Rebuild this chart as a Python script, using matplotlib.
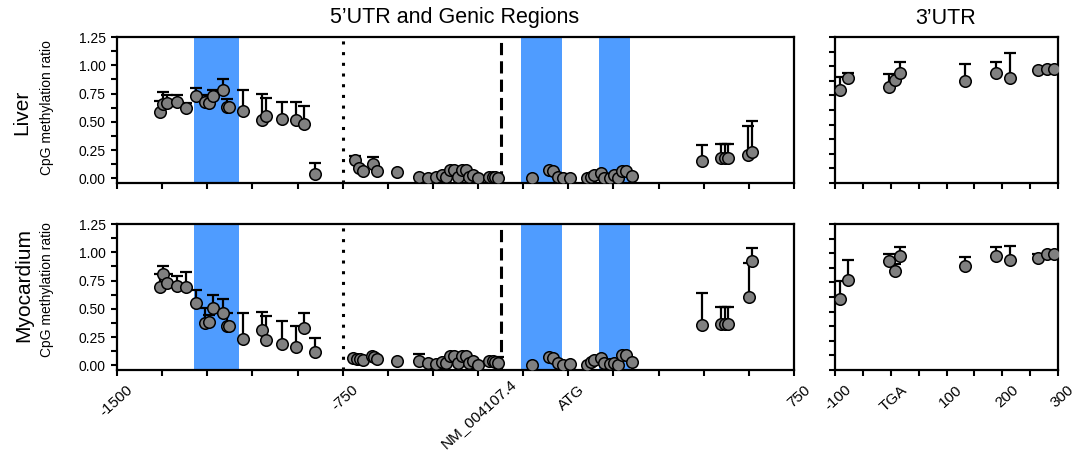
import numpy as np
import matplotlib
matplotlib.use("Agg")
import matplotlib.pyplot as plt
from matplotlib.ticker import FixedLocator, MultipleLocator
from matplotlib.transforms import ScaledTranslation

plt.rcParams["font.family"] = ["Liberation Sans", "DejaVu Sans"]

# ---- data ----
# 5'UTR + genic region, position relative to ATG; nan = no error bar
liver_x = [-1357, -1346, -1333, -1302, -1271, -1239, -1209, -1194, -1182, -1149, -1136, -1129,
           -1080, -1019, -1005, -952, -905, -880, -843,
           -709, -695, -684, -648, -635, -571, -497, -466, -441, -421, -405, -394, -380,
           -366, -355, -341, -329, -318, -299, -264, -252, -243, -233,
           -122, -64, -51, -34, -17, 7, 63, 74, 85, 110, 120, 138, 152, 166, 177, 191, 210,
           443, 509, 520, 530, 598, 609]
liver_y = [0.59, 0.656, 0.668, 0.68, 0.62, 0.727, 0.68, 0.668, 0.727, 0.786, 0.63, 0.63,
           0.597, 0.514, 0.55, 0.526, 0.514, 0.48, 0.04,
           0.166, 0.09, 0.062, 0.124, 0.062, 0.056, 0.012, 0.0, 0.012, 0.035, 0.012, 0.077, 0.077,
           0.012, 0.077, 0.077, 0.012, 0.033, 0.0, 0.012, 0.012, 0.012, 0.006,
           0.0, 0.077, 0.07, 0.012, 0.003, 0.006, 0.0, 0.012, 0.027, 0.047, 0.003, 0.0, 0.035,
           0.0, 0.07, 0.07, 0.02,
           0.153, 0.18, 0.18, 0.18, 0.21, 0.233]
liver_top = [0.685, 0.76, 0.74, 0.74, 0.67, 0.795, 0.74, np.nan, 0.78, 0.878, 0.70, np.nan,
             0.78, 0.75, 0.71, 0.676, 0.68, 0.64, 0.135,
             0.20, np.nan, np.nan, 0.19, np.nan, np.nan, np.nan, np.nan, np.nan, np.nan, np.nan,
             np.nan, np.nan, np.nan, np.nan, np.nan, np.nan, np.nan, np.nan, np.nan, np.nan,
             np.nan, np.nan,
             np.nan, np.nan, np.nan, np.nan, np.nan, np.nan, np.nan, np.nan, np.nan, np.nan,
             np.nan, np.nan, np.nan, np.nan, np.nan, np.nan, np.nan,
             0.30, 0.304, 0.304, 0.304, 0.464, 0.505]

myo_x = [-1357, -1346, -1333, -1302, -1271, -1239, -1208, -1193, -1182, -1149, -1136, -1129,
         -1080, -1019, -1005, -952, -905, -880, -843,
         -715, -704, -693, -684, -654, -645, -635, -571, -497, -466, -441, -421, -405, -394,
         -380, -366, -355, -341, -329, -318, -299, -264, -252, -243, -233,
         -122, -64, -51, -34, -17, 7, 63, 74, 85, 110, 120, 138, 152, 166, 177, 191, 210,
         443, 509, 520, 530, 601, 609]
myo_y = [0.689, 0.807, 0.733, 0.698, 0.694, 0.552, 0.378, 0.387, 0.51, 0.46, 0.35, 0.35,
         0.236, 0.31, 0.228, 0.186, 0.163, 0.328, 0.121,
         0.062, 0.06, 0.055, 0.05, 0.083, 0.074, 0.053, 0.038, 0.038, 0.018, 0.01, 0.03, 0.018,
         0.083, 0.083, 0.018, 0.083, 0.083, 0.018, 0.038, 0.003, 0.038, 0.038, 0.03, 0.018,
         0.003, 0.074, 0.068, 0.018, 0.003, 0.01, 0.003, 0.03, 0.047, 0.068, 0.018, 0.01, 0.018,
         0.003, 0.09, 0.09, 0.03,
         0.355, 0.363, 0.363, 0.363, 0.609, 0.925]
myo_top = [0.81, 0.88, 0.81, 0.79, 0.83, 0.667, 0.51, 0.45, 0.627, 0.588, 0.46, np.nan,
           0.46, 0.476, 0.437, 0.393, 0.349, 0.46, 0.245,
           np.nan, np.nan, np.nan, np.nan, np.nan, np.nan, np.nan, np.nan, 0.10, np.nan, np.nan,
           np.nan, np.nan, np.nan, np.nan, np.nan, np.nan, np.nan, np.nan, np.nan, np.nan,
           np.nan, np.nan, np.nan, 0.074,
           np.nan, np.nan, np.nan, np.nan, np.nan, np.nan, np.nan, np.nan, np.nan, np.nan,
           np.nan, np.nan, np.nan, np.nan, np.nan, np.nan, np.nan,
           0.644, 0.517, 0.517, 0.517, 0.904, 1.034]

# 3'UTR, position relative to TGA
utr3_x = [-91, -76, -4, 8, 16, 133, 188, 214, 265, 281, 293]
liver3_y = [0.797, 0.899, 0.826, 0.882, 0.939, 0.871, 0.939, 0.896, 0.967, 0.976, 0.976]
liver3_top = [0.905, 0.939, 0.933, np.nan, 1.038, 1.018, 1.038, 1.111, np.nan, np.nan, np.nan]
myo3_y = [0.606, 0.769, 0.934, 0.849, 0.977, 0.891, 0.977, 0.94, 0.957, 0.997, 0.997]
myo3_top = [0.763, 0.94, 0.997, 0.911, 1.054, 0.969, 1.054, 1.063, 0.997, np.nan, np.nan]

# CpG island / highlighted regions
bands = [(-1245, -1095), (-158, -22), (102, 205)]
tss_pos = -225
promoter_pos = -750

left_ticks = list(range(-1500, 751, 150))
left_labels = {-1500: "-1500", -750: "-750", 0: "ATG", 750: "750"}
right_ticks = list(range(-100, 301, 50))
right_labels = {-100: "-100", 0: "TGA", 100: "100", 200: "200", 300: "300"}
y_ticks = [0.0, 0.25, 0.5, 0.75, 1.0, 1.25]

BLUE = "#4f9cff"
GREY = "#808080"

W, H = 1080, 454
fig = plt.figure(figsize=(W / 100, H / 100), dpi=100)


def px_axes(x0, x1, y0, y1):
    return fig.add_axes([x0 / W, 1 - y1 / H, (x1 - x0) / W, (y1 - y0) / H])


def draw_points(ax, x, y, top):
    x, y, top = np.asarray(x, float), np.asarray(y, float), np.asarray(top, float)
    ok = ~np.isnan(top)
    ax.vlines(x[ok], y[ok], top[ok], color="black", lw=1.6, zorder=3)
    ax.plot(x[ok], top[ok], "_", color="black", ms=8, mew=1.6, zorder=3)
    ax.plot(x, y, "o", ms=8.3, mfc=GREY, mec="black", mew=1.1, zorder=4)


def style_axes(ax, labels_y=True):
    for s in ax.spines.values():
        s.set_linewidth(1.6)
    ax.yaxis.set_major_locator(FixedLocator(y_ticks))
    ax.yaxis.set_minor_locator(MultipleLocator(0.125))
    ax.tick_params(axis="both", which="both", direction="out", length=4.5, width=1.5,
                   labelsize=10, top=False, right=False)
    ax.tick_params(axis="x", labelsize=11)
    if labels_y:
        ax.set_yticklabels([f"{v:.2f}" for v in y_ticks])
    else:
        ax.set_yticklabels([])


def rotate_labels(ax):
    # GraphPad-style slanted labels, nudged right/down of the tick
    off = ScaledTranslation(14 / 100, -7 / 100, fig.dpi_scale_trans)
    for lab in ax.get_xticklabels(which="both"):
        lab.set_rotation(42)
        lab.set_ha("right")
        lab.set_va("center")
        lab.set_fontsize(11)
        lab.set_rotation_mode("anchor")
        lab.set_transform(lab.get_transform() + off)


rows = [
    (37, 183, liver_x, liver_y, liver_top, liver3_y, liver3_top),
    (224, 370, myo_x, myo_y, myo_top, myo3_y, myo3_top),
]

for i, (y0, y1, gx, gy, gtop, uy, utop) in enumerate(rows):
    bottom_row = i == 1

    ax = px_axes(117, 794, y0, y1)
    for a, b in bands:
        ax.axvspan(a, b, color=BLUE, lw=0, zorder=1)
    ax.axvline(promoter_pos, color="black", lw=2.2, ls=(0, (1, 2.5)), zorder=2)
    ax.axvline(tss_pos, color="black", lw=2.2, ls=(0, (4, 2)), zorder=2)
    draw_points(ax, gx, gy, gtop)
    ax.set_xlim(-1500, 750)
    ax.set_ylim(-0.04, 1.25)
    style_axes(ax)
    ax.xaxis.set_major_locator(FixedLocator(left_ticks))
    ax.xaxis.set_minor_locator(FixedLocator([tss_pos]))
    ax.tick_params(axis="x", which="minor", length=0)
    if bottom_row:
        ax.set_xticklabels([left_labels.get(t, "") for t in left_ticks])
        ax.set_xticklabels(["NM_004107.4"], minor=True)
        rotate_labels(ax)
    else:
        ax.set_xticklabels([])
        ax.set_xticklabels([], minor=True)

    ax2 = px_axes(835, 1058, y0, y1)
    draw_points(ax2, utr3_x, uy, utop)
    ax2.set_xlim(-100, 300)
    ax2.set_ylim(0, 1.25)
    style_axes(ax2, labels_y=False)
    ax2.xaxis.set_major_locator(FixedLocator(right_ticks))
    if bottom_row:
        ax2.set_xticklabels([right_labels.get(t, "") for t in right_ticks])
        rotate_labels(ax2)
    else:
        ax2.set_xticklabels([])

fig.text(455 / W, 1 - 18 / H, "5’UTR and Genic Regions", ha="center", va="center", fontsize=15.5)
fig.text(946 / W, 1 - 18 / H, "3’UTR", ha="center", va="center", fontsize=15.5)

fig.text(22 / W, 1 - 112 / H, "Liver", rotation=90, ha="center", va="center", fontsize=15)
fig.text(47 / W, 1 - 108 / H, "CpG methylation ratio", rotation=90, ha="center", va="center", fontsize=10)
fig.text(24 / W, 1 - 285 / H, "Myocardium", rotation=90, ha="center", va="center", fontsize=15)
fig.text(47 / W, 1 - 290 / H, "CpG methylation ratio", rotation=90, ha="center", va="center", fontsize=10)

fig.savefig("out.png", dpi=100)
